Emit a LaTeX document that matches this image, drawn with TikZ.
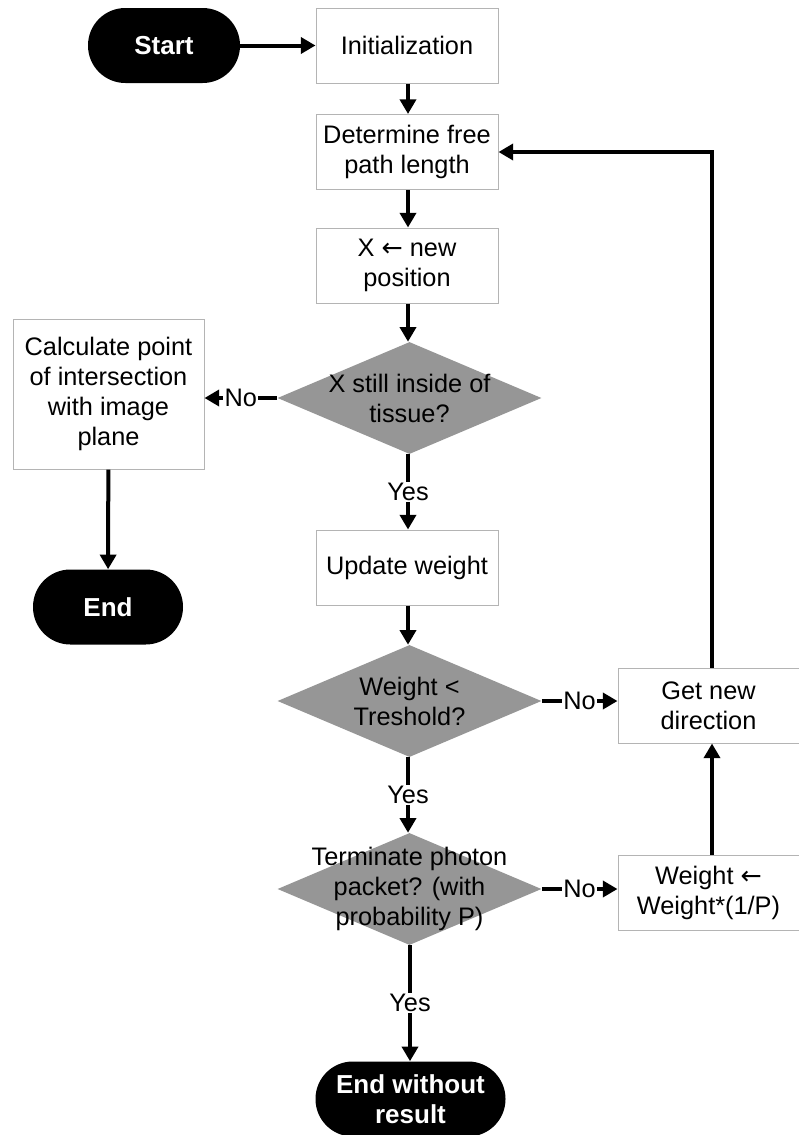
\documentclass[tikz,border=0pt]{standalone}
\usepackage{fontspec}
\setmainfont{Liberation Sans}
\newfontfamily\symfont{DejaVu Sans}
\usetikzlibrary{shapes.geometric,arrows.meta}
\newcommand{\larr}{{\symfont\fontsize{19}{19}\selectfont ←}}
\begin{document}
\begin{tikzpicture}[x=0.75pt,y=-0.75pt,
  every node/.style={font=\fontsize{19}{22.5}\selectfont, align=center},
  procbox/.style={draw={rgb,255:red,180;green,180;blue,180}, line width=0.75pt, fill=white,
    minimum width=136.5pt, minimum height=56.25pt, inner sep=2pt},
  termnode/.style={fill=black, text=white, font=\fontsize{19.5}{22.5}\selectfont\bfseries,
    rounded corners=28pt, minimum height=56.25pt, inner sep=2pt},
  decision/.style={diamond, fill={rgb,255:red,150;green,150;blue,150}, inner sep=0pt,
    minimum width=198pt, minimum height=84pt},
  conn/.style={line width=3pt, -{Triangle[length=11pt,width=12pt]}},
  lbl/.style={fill=white, inner sep=1pt}
]
\useasboundingbox (0,0) rectangle (799,1135);

\node[termnode, minimum width=114pt] (start) at (164,45.5) {Start};
\node[procbox] (init) at (407,45.5) {Initialization};
\node[procbox] (det) at (407,152) {Determine free\\path length};
\node[procbox] (pos) at (407,265.5) {X \larr{} new\\position};
\node[decision] (d1) at (409.5,398) {};
\node at (d1.center) {X still inside of\\tissue?};
\node[procbox, minimum width=143.25pt, minimum height=112.5pt] (calc) at (108.5,394) {Calculate point\\of intersection\\with image\\plane};
\node[termnode, minimum width=112.5pt] (end) at (108,607) {End};
\node[procbox] (upd) at (407,567.5) {Update weight};
\node[decision] (d2) at (409.5,701) {};
\node at (d2.center) {Weight <\\Treshold?};
\node[procbox, minimum width=135.75pt] (dir) at (708.5,705.5) {Get new\\direction};
\node[decision] (d3) at (409.5,889) {};
\node at (d3.center) {Terminate photon\\packet? (with\\probability P)};
\node[procbox, minimum width=135.75pt] (wgt) at (708.5,893) {Weight \larr\\Weight*(1/P)};
\node[termnode, minimum width=142.5pt] (endwo) at (410.5,1099) {End without\\result};

\draw[conn] (start) -- (init);
\draw[conn] (init.south -| 408,0) -- (det.north -| 408,0);
\draw[conn] (det.south -| 408,0) -- (pos.north -| 408,0);
\draw[conn] (pos.south -| 408,0) -- (d1.north -| 408,0);
\draw[conn] (d1.west) -- node[lbl, pos=0.5] {No} (calc.east |- d1.west);
\draw[conn] (calc) -- (end);
\draw[conn] (d1.south -| 408,0) -- node[lbl] {Yes} (upd.north -| 408,0);
\draw[conn] (upd.south -| 408,0) -- (d2.north -| 408,0);
\draw[conn] (d2.east) -- node[lbl] {No} (dir.west |- d2.east);
\draw[conn] (d2.south -| 408,0) -- node[lbl] {Yes} (d3.north -| 408,0);
\draw[conn] (d3.east) -- node[lbl] {No} (wgt.west |- d3.east);
\draw[conn] (d3.south -| 410,0) -- node[lbl] {Yes} (endwo.north -| 410,0);
\draw[conn] (wgt.north -| 712,0) -- (dir.south -| 712,0);
\coordinate (corner) at (712,152);
\draw[conn] (dir.north -| 712,0) -- (corner) -- (det.east);
\end{tikzpicture}
\end{document}
